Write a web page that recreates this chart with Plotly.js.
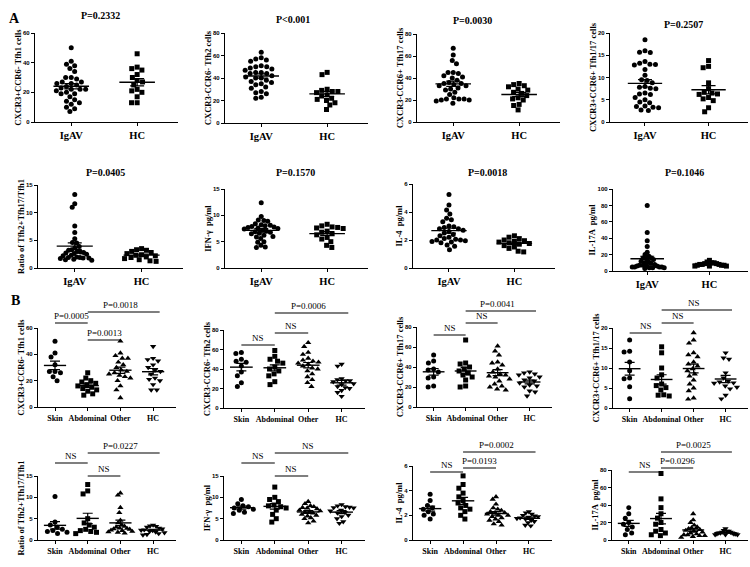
<!DOCTYPE html>
<html><head><meta charset="utf-8">
<script src="https://cdn.plot.ly/plotly-3.0.1.min.js"></script>
<style>html,body{margin:0;padding:0;background:#fff}#chart{width:750px;height:567px}</style>
</head><body><div id="chart"></div>
<script>
// ---------------- data ----------------
const groupsA = ['IgAV', 'HC'];
const groupsB = ['Skin', 'Abdominal', 'Other', 'HC'];

const tfh1_IgAV = [50,41,39,38,36,34,30,30,29,27,27,26,26,25,24,23,22,22,22,21,20,19,19,17,15,14,13,12,10,9,7];
const tfh1_HC = [46,37,36,35,32,30,28,27,25,22,21,20,17,13,13];
const tfh2_IgAV = [63,58,57,55,56,51,50,50,49,48,47,45,45,44,44,42,41,40,40,38,37,36,35,34,32,31,28,27,26,23,22];
const tfh2_HC = [45,43,30,29,28,28,27,25,24,22,21,20,18,16,12];
const tfh17_IgAV = [67,61,56,53,45,45,44,42,41,40,38,36,35,35,34,33,33,31,30,29,27,25,22,21,21,21,20,20,19,17];
const tfh17_HC = [35,34,33,32,30,29,27,26,24,22,21,20,16,15,11];
const tfh117_IgAV = [18.5,16,15.7,15.6,13.6,13.2,13,12.8,12.9,11.8,10.5,9.5,9.3,8.8,8,7.8,7.6,7.5,6.5,6.3,6.2,5.5,5,4.5,4.3,3.6,3.5,3.3,3.2,2.7,2.6];
const tfh117_HC = [13.8,12.5,12.2,8.8,7.5,6.7,6.5,6.3,6.2,5.5,5.2,4.8,3.2,2.3];
const ratio_IgAV = [13.3,11.6,11,7.6,6.4,5.3,4.6,4.5,3.9,3.6,3.3,3.2,3.0,2.9,2.8,2.7,2.6,2.5,2.3,2.2,2.0,1.9,1.9,1.8,1.8,1.7,1.6,1.5,1.4];
const ratio_HC = [3.5,3.3,3.2,3.0,2.8,2.6,2.4,2.3,2.2,2.0,1.9,1.7,1.5,1.3,1.2];
const ifng_IgAV = [12.4,9.8,9.1,9.0,8.9,8.4,8.2,8.1,8.0,7.9,7.8,7.7,7.6,7.5,7.4,7.2,7.0,6.9,6.8,6.6,6.5,6.2,6.0,5.9,5.6,5.0,4.9,4.3,4.0,3.9];
const ifng_HC = [8.3,8.0,7.8,7.7,7.6,7.5,7.0,6.8,6.5,6.3,5.8,5.5,5.0,4.3,3.9];
const il4_IgAV = [5.25,4.5,4.15,3.85,3.55,3.45,3.3,3.0,2.95,2.9,2.8,2.8,2.7,2.6,2.5,2.4,2.3,2.2,2.1,2.05,2.0,2.0,1.95,1.9,1.85,1.8,1.65,1.55,1.3];
const il4_HC = [2.3,2.2,2.1,2.0,1.95,1.9,1.85,1.8,1.75,1.7,1.6,1.5,1.4,1.2,1.15];
const il17_IgAV = [80,47,37,30,23,20,18,16,16,15,14,12,11,10,9,8,7,7,6,6,6,5,5,5,5,4,4,4,3];
const il17_HC = [13,11,10,10,9,9,8,8,8,7,7,7,6,6,6];

const tfh1_Skin = [50,41,38,32,27,27,26,23,20];
const tfh1_Abd = [26,22,20,19,18,17,16,15,14,13,12,10,9];
const tfh1_Other = [50,41,39,37,37,34,32,30,28,27,26,25,24,23,22,20,16,13,7];
const tfh2_Skin = [57,56,50,48,47,43,37,33,26,22];
const tfh2_Abd = [59,53,50,48,46,42,40,38,35,33,27,24];
const tfh2_Other = [67,63,57,55,51,49,48,47,46,45,43,41,40,38,35,32,29,26,22];
const tfh17_Skin = [52,46,44,38,37,35,30,29,21,20];
const tfh17_Abd = [67,44,43,40,38,36,34,32,30,27,21,20];
const tfh17_Other = [61,56,52,45,44,42,38,35,33,32,31,30,28,26,23,21,20,18,17];
const tfh117_Skin = [17,14.2,14,11.5,9.3,7.5,7.3,5.3,2.3];
const tfh117_Abd = [15.3,13.8,10,8.3,7.5,6,5.6,5.1,4.5,3.3,3.2,3.0];
const tfh117_Other = [18.8,17,16.2,13.8,13.3,12.8,11.5,11,10.5,9.8,9.3,8.5,8,7,6,5,4.3,2.5,2.2];
const ratio_Skin = [10.2,4.2,3.5,3,2.5,2.2,2,1.8,1.5];
const ratio_Abd = [13,11.5,10.8,5,4,3.5,3,2.5,2.2,2,1.8,1.5];
const ratio_Other = [11,10.5,7.6,6.4,4.6,4,3.5,3.2,3,2.8,2.7,2.6,2.5,2.3,2.2,2,1.9,1.8,1.6];
const ifng_Skin = [9.5,8.5,8,7.8,7.5,7.2,7,6.5,6.2];
const ifng_Abd = [12.4,10,9.5,9,8.2,8,7.8,7.5,7,6,5,4.2];
const ifng_Other = [9,8.5,8,7.8,7.6,7.5,7.3,7.0,6.8,6.6,6.5,6.3,6,5.8,5.6,5.2,5,4.4,4.0];
const il4_Skin = [3.7,3.2,2.8,2.6,2.5,2.3,2.1,2.0,1.7];
const il4_Abd = [5.2,4.5,4.2,3.8,3.5,3.2,3.0,2.8,2.6,2.5,2.3,2.0,1.7];
const il4_Other = [3.5,3.3,2.9,2.6,2.5,2.4,2.3,2.2,2.2,2.1,2.0,2.0,1.9,1.8,1.7,1.6,1.5,1.3,1.2];
const il17_Skin = [37,30,25,20,18,15,12,8,6];
const il17_Abd = [76,47,37,30,25,20,18,12,10,8,6,5];
const il17_Other = [30,23,20,17,15,14,13,12,11,10,9,8,7,6,6,5,5,4,3];

const pTitlesA = ['P=0.2332','P<0.001','P=0.0030','P=0.2507','P=0.0405','P=0.1570','P=0.0018','P=0.1046'];
const yTitles = ['CXCR3+CCR6- Tfh1 cells','CXCR3-CCR6- Tfh2 cells','CXCR3-CCR6+ Tfh17 cells','CXCR3+CCR6+ Tfh1/17 cells',
                 'Ratio of Tfh2+Tfh17/Tfh1','IFN-\u03b3  pg/ml','IL-4  pg/ml','IL-17A  pg/ml'];
const yMax = [60,80,80,20,15,15,6,100, 60,80,80,20,15,15,6,80];
const yStep = [20,20,20,5,5,5,2,20, 20,20,20,5,5,5,2,20];
// significance comparisons for panel B: [fromGroup, toGroup, label]
const sigB = [
  [[0,1,'P=0.0005'],[1,2,'P=0.0013'],[1,3,'P=0.0018']],
  [[0,1,'NS'],[1,2,'NS'],[1,3,'P=0.0006']],
  [[0,1,'NS'],[1,2,'NS'],[1,3,'P=0.0041']],
  [[0,1,'NS'],[1,2,'NS'],[1,3,'NS']],
  [[0,1,'NS'],[1,2,'NS'],[1,3,'P=0.0227']],
  [[0,1,'NS'],[1,2,'NS'],[1,3,'NS']],
  [[0,1,'NS'],[1,2,'P=0.0193'],[1,3,'P=0.0002']],
  [[0,1,'NS'],[1,2,'P=0.0296'],[1,3,'P=0.0025']]
];

const seriesA = [[tfh1_IgAV,tfh1_HC],[tfh2_IgAV,tfh2_HC],[tfh17_IgAV,tfh17_HC],[tfh117_IgAV,tfh117_HC],
                 [ratio_IgAV,ratio_HC],[ifng_IgAV,ifng_HC],[il4_IgAV,il4_HC],[il17_IgAV,il17_HC]];
const seriesB = [[tfh1_Skin,tfh1_Abd,tfh1_Other,tfh1_HC],[tfh2_Skin,tfh2_Abd,tfh2_Other,tfh2_HC],
                 [tfh17_Skin,tfh17_Abd,tfh17_Other,tfh17_HC],[tfh117_Skin,tfh117_Abd,tfh117_Other,tfh117_HC],
                 [ratio_Skin,ratio_Abd,ratio_Other,ratio_HC],[ifng_Skin,ifng_Abd,ifng_Other,ifng_HC],
                 [il4_Skin,il4_Abd,il4_Other,il4_HC],[il17_Skin,il17_Abd,il17_Other,il17_HC]];

// ---------------- layout geometry (pixels: yaxis x, axis end x, top y, zero y) ----------------
const W = 750, H = 567;
const geo = [
  [35,178,33,122],[225,368,33,123],[417,560,34,122],[610,748,33,122],
  [38,183,185,268],[225,368,189,268],[413,555,184,268],[613,748,189,271],
  [38,176,328,407],[224,365,330,408],[417,552,327,407],[613,748,328,408],
  [38,176,476,540],[224,365,476,540],[413,552,466,540],[612,748,470,540]
];
const titlePos = [[100,15],[293,19],[472,21],[683,25],[105,173],[295,173],[487,173],[684,173]];
// pixel y of significance lines (per panel B, matching sigB order)
const sigY = [[323,340,312],[345,333,313],[335,323,311],[333,323,310],[463,476,453],[463,476,453],[472,468,452],[472,468,452]];

const symA = ['circle','square'];
const symB = ['circle','square','triangle-up','triangle-down'];
const serif = 'Liberation Serif, Times New Roman, serif';

function swarm(vals, pxY, pxX, D, limit) {
  const idx = vals.map((v,i)=>i).sort((a,b)=>vals[b]-vals[a]);
  const placed = [], px = new Array(vals.length);
  for (const i of idx) {
    const y = vals[i]*pxY;
    const cands = [0];
    for (const p of placed) {
      const dy = y - p.y;
      if (Math.abs(dy) < D) { const dx = Math.sqrt(D*D - dy*dy); cands.push(p.x+dx, p.x-dx); }
    }
    cands.sort((a,b)=>Math.abs(a)-Math.abs(b) || a-b);
    let chosen = 0;
    for (const c of cands) {
      if (placed.every(p => (c-p.x)*(c-p.x)+(y-p.y)*(y-p.y) >= D*D - 1e-6)) { chosen = c; break; }
    }
    placed.push({x: chosen, y: y});
    px[i] = chosen;
  }
  const mx = Math.max(...px.map(Math.abs));
  const k = mx > limit ? limit / mx : 1;
  return px.map(v => v * k / pxX);
}
function mean(a){return a.reduce((s,v)=>s+v,0)/a.length;}
function sem(a){const m=mean(a);return Math.sqrt(a.reduce((s,v)=>s+(v-m)*(v-m),0)/(a.length-1))/Math.sqrt(a.length);}

const data = [], layout = {
  width: W, height: H, margin:{l:0,r:0,t:0,b:0}, showlegend:false,
  paper_bgcolor:'white', plot_bgcolor:'white', shapes:[], annotations:[]
};

for (let p = 0; p < 16; p++) {
  const isB = p >= 8;
  const cats = isB ? groupsB : groupsA;
  const ser = isB ? seriesB[p-8] : seriesA[p];
  const syms = isB ? symB : symA;
  const xr = isB ? [-0.52, 3.7] : [-0.55, 1.62];
  const [gx0, gx1, gyt, gyb] = geo[p];
  const sfx = p === 0 ? '' : String(p+1);
  const pxX = (gx1-gx0)/(xr[1]-xr[0]);
  const pxY = (gyb-gyt)/yMax[p];
  const hw = isB ? 0.34 : 0.27;
  const cap = isB ? 5 : 7;
  ser.forEach((vals, g) => {
    const offs = swarm(vals, pxY, pxX, 5.6, isB ? 12 : 17);
    data.push({type:'scatter', mode:'markers', xaxis:'x'+sfx, yaxis:'y'+sfx,
      x: offs.map(o=>g+o), y: vals, cliponaxis:false,
      marker:{symbol:syms[g], size: syms[g].startsWith('triangle') ? 5.5 : 5, color:'black', line:{width:0}}});
    const m = mean(vals), s = sem(vals);
    data.push({type:'scatter', mode:'lines', xaxis:'x'+sfx, yaxis:'y'+sfx,
      x:[g-hw, g+hw], y:[m, m], line:{color:'black', width:1.4}, cliponaxis:false});
    data.push({type:'scatter', mode:'markers', xaxis:'x'+sfx, yaxis:'y'+sfx,
      x:[g], y:[m], marker:{size:1, color:'rgba(0,0,0,0)'}, cliponaxis:false,
      error_y:{type:'data', array:[s], visible:true, width:cap, thickness:1.2, color:'black'}});
  });
  const ticks = [];
  for (let t = 0; t <= yMax[p] + 1e-9; t += yStep[p]) ticks.push(t);
  layout['xaxis'+sfx] = {domain:[gx0/W, gx1/W], range:xr, anchor:'y'+sfx,
    tickvals: cats.map((c,i)=>i), ticktext: cats, tickangle:0, showline:true, linecolor:'black', linewidth:1.2,
    ticks:'outside', ticklen:3, tickwidth:1, tickcolor:'black', showgrid:false, zeroline:false,
    tickfont:{family:serif, size: isB ? 8 : 10.5, color:'black', weight:'bold'}};
  layout['yaxis'+sfx] = {domain:[1-gyb/H, 1-gyt/H], range:[0, yMax[p]], anchor:'x'+sfx,
    tickvals: ticks, showline:true, linecolor:'black', linewidth:1.2, ticks:'outside', ticklen:3,
    tickwidth:1, tickcolor:'black', showgrid:false, zeroline:false,
    tickfont:{family:'Liberation Sans, Arial, sans-serif', size:6, color:'black', weight:'bold'},
    title:{text: yTitles[p % 8], standoff:0, font:{family:serif, size:8.5, color:'black', weight:'bold'}}};
  if (!isB) {
    layout.annotations.push({xref:'paper', yref:'paper', x:titlePos[p][0]/W, y:1-titlePos[p][1]/H,
      text:pTitlesA[p], showarrow:false, xanchor:'center', yanchor:'middle',
      font:{family:serif, size:10, color:'black', weight:'bold'}});
  } else {
    sigB[p-8].forEach((s, k) => {
      const yp = 1 - sigY[p-8][k]/H;
      const x1 = s[1] === 3 ? 3.2 : s[1];
      layout.shapes.push({type:'line', xref:'x'+sfx, yref:'paper', x0:s[0], x1:x1, y0:yp, y1:yp,
        line:{color:'black', width:1.1}});
      layout.annotations.push({xref:'x'+sfx, yref:'paper', x:(s[0]+s[1])/2, y:yp, yanchor:'bottom',
        yshift:0, text:s[2], showarrow:false, font:{family:serif, size:9, color:'black'}});
    });
  }
}
layout.annotations.push({xref:'paper', yref:'paper', x:7/W, y:1-9/H, text:'A', showarrow:false,
  font:{family:serif, size:14, color:'black', weight:'bold'}});
layout.annotations.push({xref:'paper', yref:'paper', x:9/W, y:1-300/H, text:'B', showarrow:false,
  font:{family:serif, size:14, color:'black', weight:'bold'}});

Plotly.newPlot('chart', data, layout, {staticPlot:true, displayModeBar:false});
</script></body></html>
